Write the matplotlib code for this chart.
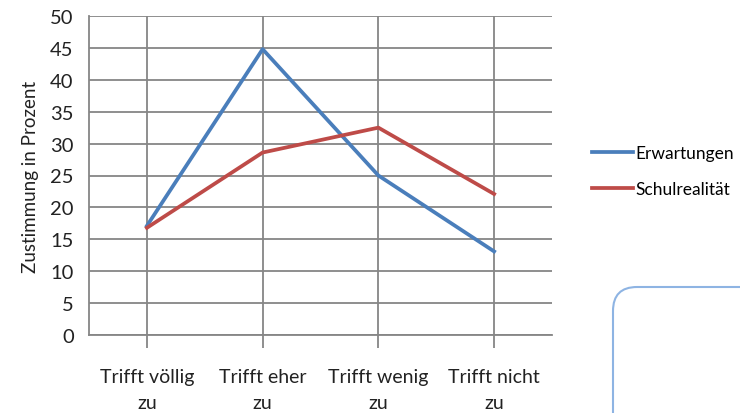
"""
Liniendiagramm: Erwartungen vs. Schulrealität (Zustimmung in Prozent).
"""

import matplotlib.pyplot as plt
from matplotlib.patches import FancyBboxPatch
from matplotlib.transforms import IdentityTransform

# Daten
categories = ["Trifft völlig\nzu", "Trifft eher\nzu", "Trifft wenig\nzu", "Trifft nicht\nzu"]
erwartungen = [17.1, 44.8, 25.0, 13.1]
schulrealitaet = [16.8, 28.6, 32.5, 22.1]
y_ticks = [0, 5, 10, 15, 20, 25, 30, 35, 40, 45, 50]

plt.rcParams["font.family"] = ["Lato", "DejaVu Sans"]

fig = plt.figure(figsize=(7.4, 4.14), dpi=100)
ax = fig.add_axes([89 / 740, 1 - 336 / 414, 463 / 740, 319 / 414])

grid_color = "#868686"
text_color = "#222222"
x = list(range(len(categories)))

ax.plot(x, erwartungen, color="#4A7EBB", linewidth=2.7, label="Erwartungen", zorder=3)
ax.plot(x, schulrealitaet, color="#BE4B48", linewidth=2.7, label="Schulrealität", zorder=3)

ax.set_xlim(-0.5, 3.5)
ax.set_ylim(0, 50)
ax.set_yticks(y_ticks)
ax.set_xticks(x)
ax.set_xticklabels(categories, linespacing=1.65)

ax.grid(True, color=grid_color, linewidth=1.3)
ax.set_axisbelow(True)
for side in ["top", "right"]:
    ax.spines[side].set_visible(False)
for side in ["left", "bottom"]:
    ax.spines[side].set_color(grid_color)
    ax.spines[side].set_linewidth(1.3)

ax.tick_params(axis="y", length=0, pad=11, labelsize=14.5, labelcolor=text_color)
ax.tick_params(axis="x", length=9, width=1.3, color=grid_color, pad=15,
               labelsize=14, labelcolor=text_color)

ax.set_ylabel("Zustimmung in Prozent", fontsize=13.5, color=text_color, labelpad=8)

ax.legend(loc="center left", bbox_to_anchor=(576 / 740, 1 - 172 / 414),
          bbox_transform=fig.transFigure, frameon=False, fontsize=12.5,
          handlelength=2.4, handletextpad=0.1, labelspacing=1.2)

# abgerundeter Rahmen unten rechts (Rest eines Textfelds), in Pixeln
box = FancyBboxPatch((613, -60), 200, 414 - 288 + 60,
                     boxstyle="round,pad=0,rounding_size=24",
                     transform=IdentityTransform(), facecolor="none",
                     edgecolor="#8EB4E3", linewidth=1.5, clip_on=False)
fig.patches.append(box)

fig.savefig("out.png", dpi=100)
